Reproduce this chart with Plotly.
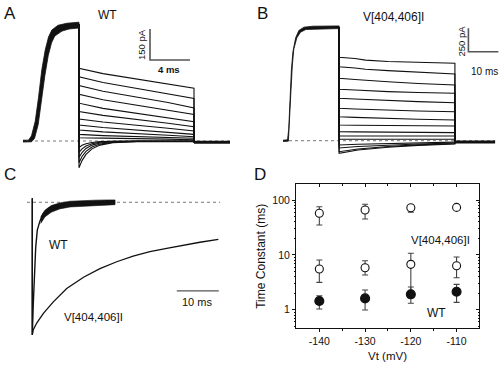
import plotly.graph_objects as go

W, H = 500, 365
FONT = "Liberation Sans, Arial, sans-serif"
INK = "#111111"
GREY = "#555555"

# ---------------- Panel A (WT current family): time in ms, current in pA
A_ACT_UP_T = [0, 0.55, 0.85, 1.22, 1.55, 1.88, 2.22, 2.55, 2.88, 3.5, 4.4, 5.6]
A_ACT_UP = [4, 4, 25, 95, 210, 345, 440, 503, 537, 560, 570, 575]
A_ACT_LO_T = [0, 0.85, 1.15, 1.52, 1.85, 2.18, 2.52, 2.85, 3.18, 3.9, 4.6, 5.6]
A_ACT_LO = [-5, -4, 12, 80, 185, 315, 412, 475, 508, 532, 542, 547]
A_STEP_T = 5.6
A_PLATEAU = 565
A_OUT_T = [5.6, 8.0, 11.4, 14.5, 17.1]
A_OUT = [
    [352, 326, 300, 276, 255],
    [311, 283, 255, 229, 206],
    [268, 241, 214, 186, 160],
    [226, 200, 174, 150, 128],
    [183, 158, 134, 112, 93],
    [142, 124, 106, 86, 69],
    [106, 92, 77, 62, 48],
    [77, 65, 53, 42, 32],
    [53, 44, 37, 28, 21],
    [32, 26, 21, 17, 13],
    [16, 14, 13, 9, 6],
]
A_IN_T = [5.6, 5.9, 6.3, 6.9, 7.7, 9.0, 11.4, 17.1]
A_IN = [
    [-130, -95, -65, -38, -20, -8, -3, -2],
    [-105, -75, -50, -29, -15, -6, -2, -2],
    [-80, -56, -36, -20, -10, -4, -1, -1],
    [-55, -38, -24, -13, -6, -2, 0, -1],
    [-32, -21, -13, -7, -3, -1, 0, 0],
]
A_POST_T = [17.1, 20.7]
A_POST = -6
A_BASE_T = [0, 20.7]
A_SB_T0, A_SB_MS = 12.7, 4      # scale bar: 4 ms
A_SB_Y0, A_SB_PA = 392, 150     # scale bar: 150 pA

# ---------------- Panel B (V[404,406]I current family)
B_ACT_UP_T = [0, 1.5, 1.9, 2.3, 2.8, 3.3, 4.2, 5.3, 7.0, 10, 18.7]
B_ACT_UP = [5, 10, 120, 420, 760, 950, 1100, 1180, 1215, 1225, 1228]
B_ACT_LO_T = [0, 1.8, 2.15, 2.6, 3.1, 3.6, 4.6, 5.8, 7.6, 10.5, 18.7]
B_ACT_LO = [-8, -5, 150, 500, 800, 980, 1100, 1160, 1190, 1198, 1200]
B_STEP_T = 18.7
B_PLATEAU = 1210
B_OUT_T = [18.7, 24.0, 27.5, 35.0, 45.0, 57.3]
B_OUT = [
    [892, 880, 862, 848, 838, 828],
    [792, 778, 765, 750, 732, 714],
    [668, 655, 645, 630, 612, 596],
    [550, 542, 535, 525, 515, 507],
    [454, 446, 440, 430, 418, 407],
    [347, 340, 335, 328, 318, 310],
    [257, 250, 246, 238, 229, 221],
    [168, 166, 165, 162, 160, 157],
    [96, 94, 93, 91, 89, 86],
    [50, 50, 50, 50, 50, 50],
    [15, 15, 15, 15, 15, 15],
]
B_IN_T = [18.7, 25, 35, 45, 57.3]
B_IN = [
    [-135, -100, -70, -50, -35],
    [-118, -88, -62, -45, -30],
    [-78, -62, -46, -35, -25],
    [-46, -38, -30, -24, -18],
]
B_POST_T = [57.3, 70.7]
B_POST = -15
B_BASE_T = [0, 70.7]
B_SB_T0, B_SB_MS = 61.8, 10     # scale bar: 10 ms
B_SB_Y0, B_SB_PA = 952, 250     # scale bar: 250 pA

# ---------------- Panel C (normalised tail currents)
C_WT_T = [0, 0, 0.24, 0.48, 0.81, 1.19, 1.83, 2.62, 3.81, 5.81, 9.76, 19.7]
C_WT = [0.03, -1, -0.76, -0.51, -0.34, -0.21, -0.14, -0.083, -0.045, -0.02, -0.008, 0]
C_WT_NOISE_T = [2.0, 3.0, 4.5, 6.5, 9.0, 12, 15, 18, 19.7]
C_WT_NOISE_UP = [-0.11, -0.06, -0.025, -0.005, 0.008, 0.014, 0.016, 0.018, 0.018]
C_WT_NOISE_LO = [-0.16, -0.11, -0.075, -0.05, -0.035, -0.028, -0.024, -0.02, -0.018]
C_MUT_T = [0, 0, 0.24, 1.05, 2.64, 5.0, 8.19, 12.2, 16.1, 20.1, 24.0, 28.0, 32.0, 35.9, 39.9, 44.3]
C_MUT = [0.03, -1, -0.96, -0.91, -0.837, -0.75, -0.65, -0.565, -0.5, -0.448, -0.405,
         -0.372, -0.347, -0.322, -0.301, -0.279]
C_BASE_T = [-1.26, 44.7]
C_SB_T0, C_SB_MS, C_SB_Y = 34.4, 10, -0.668

# ---------------- Panel D (time constants)
VT = [-140, -130, -120, -110]
VT_LABELS = ["-140", "-130", "-120", "-110"]
SLOW = [57.4, 66.0, 72.6, 73.6]
SLOW_HI = [75.8, 83.8, 81.0, 79.0]
SLOW_LO = [35.1, 45.2, 60.0, 67.5]
FAST = [5.53, 5.84, 6.73, 6.35]
FAST_HI = [8.07, 7.83, 10.7, 9.16]
FAST_LO = [3.16, 4.30, 1.90, 3.84]
WT = [1.44, 1.61, 1.91, 2.13]
WT_HI = [1.80, 2.29, 2.60, 2.90]
WT_LO = [1.03, 0.99, 1.31, 1.36]


def px_x(px):
    return px / W


def px_y(py):
    return 1 - py / H


fig = go.Figure()


def line(x, y, ax, width=1.0, color=INK, dash=None):
    fig.add_trace(go.Scatter(x=x, y=y, mode="lines", xaxis=ax[0], yaxis=ax[1],
                             line=dict(color=color, width=width, dash=dash),
                             hoverinfo="skip", showlegend=False))


def band(xu, yu, xl, yl, ax, lw=0.8):
    fig.add_trace(go.Scatter(x=list(xu) + list(xl)[::-1], y=list(yu) + list(yl)[::-1],
                             mode="lines", fill="toself", fillcolor=INK,
                             line=dict(color=INK, width=lw), xaxis=ax[0], yaxis=ax[1],
                             hoverinfo="skip", showlegend=False))


# Panel A
AX_A = ("x", "y")
line(A_BASE_T, [0, 0], AX_A, 1, "#777777", "dot")
for vals in A_OUT:
    line([A_STEP_T] + A_OUT_T + [A_OUT_T[-1]], [A_PLATEAU] + vals + [A_POST], AX_A, 1.1)
for vals in A_IN:
    line([A_STEP_T] + A_IN_T + [A_IN_T[-1]], [A_PLATEAU] + vals + [A_POST], AX_A, 1.1)
line(A_POST_T, [A_POST, A_POST], AX_A, 3)
band(A_ACT_UP_T, A_ACT_UP, A_ACT_LO_T, A_ACT_LO, AX_A)
line([A_SB_T0, A_SB_T0, A_SB_T0 + A_SB_MS], [A_SB_Y0 + A_SB_PA, A_SB_Y0, A_SB_Y0], AX_A, 1.6, GREY)

# Panel B
AX_B = ("x2", "y2")
line(B_BASE_T, [0, 0], AX_B, 1, "#777777", "dot")
for vals in B_OUT:
    line([B_STEP_T] + B_OUT_T + [B_OUT_T[-1]], [B_PLATEAU] + vals + [B_POST], AX_B, 1.1)
for vals in B_IN:
    line([B_STEP_T] + B_IN_T + [B_IN_T[-1]], [B_PLATEAU] + vals + [B_POST], AX_B, 1.1)
line(B_POST_T, [B_POST, B_POST], AX_B, 3)
band(B_ACT_UP_T, B_ACT_UP, B_ACT_LO_T, B_ACT_LO, AX_B)
line([B_SB_T0, B_SB_T0, B_SB_T0 + B_SB_MS], [B_SB_Y0 + B_SB_PA, B_SB_Y0, B_SB_Y0], AX_B, 1.6, GREY)

# Panel C
AX_C = ("x3", "y3")
line(C_BASE_T, [0, 0], AX_C, 1, "#777777", "dot")
line(C_MUT_T, C_MUT, AX_C, 1.3)
line(C_WT_T, C_WT, AX_C, 1.4)
band(C_WT_NOISE_T, C_WT_NOISE_UP, C_WT_NOISE_T, C_WT_NOISE_LO, AX_C, 0.6)
line([C_SB_T0, C_SB_T0 + C_SB_MS], [C_SB_Y, C_SB_Y], AX_C, 1.2, GREY)


# Panel D
def errs(v, hi, lo):
    return ([h - a for a, h in zip(v, hi)], [a - l for a, l in zip(v, lo)])


for vals, hi, lo, filled, sz in [(SLOW, SLOW_HI, SLOW_LO, False, 8),
                                 (FAST, FAST_HI, FAST_LO, False, 8),
                                 (WT, WT_HI, WT_LO, True, 9)]:
    up, dn = errs(vals, hi, lo)
    fig.add_trace(go.Scatter(
        x=VT, y=vals, mode="markers", xaxis="x4", yaxis="y4", showlegend=False,
        error_y=dict(type="data", array=up, arrayminus=dn, color="#444444",
                     thickness=1.1, width=3),
        marker=dict(size=sz, symbol="circle", color=INK if filled else "white",
                    line=dict(color=INK, width=1.1)),
        hoverinfo="skip"))
# invisible helper for the mirrored (top/right) frame axes
fig.add_trace(go.Scatter(x=VT, y=WT, mode="markers", xaxis="x5", yaxis="y5",
                         marker=dict(opacity=0), hoverinfo="skip", showlegend=False))

hidden = dict(visible=False, fixedrange=True)
LOG_MINOR = [0.5, 0.6, 0.7, 0.8, 0.9, 2, 3, 4, 5, 6, 7, 8, 9,
             20, 30, 40, 50, 60, 70, 80, 90]
tfont = dict(family=FONT, size=10.5, color=INK)

fig.update_layout(
    width=W, height=H, margin=dict(l=0, r=0, t=0, b=0),
    paper_bgcolor="white", plot_bgcolor="rgba(0,0,0,0)",
    font=dict(family=FONT, color=INK),
    xaxis=dict(domain=[px_x(20), px_x(235)], range=[-0.3, 21.2], anchor="y", **hidden),
    yaxis=dict(domain=[px_y(175), px_y(10)], range=[-164.6, 634.0], anchor="x", **hidden),
    xaxis2=dict(domain=[px_x(280), px_x(500)], range=[-1, 72.33], anchor="y2", **hidden),
    yaxis2=dict(domain=[px_y(175), px_y(10)], range=[-367.0, 1398.5], anchor="x2", **hidden),
    xaxis3=dict(domain=[px_x(20), px_x(240)], range=[-2.929, 49.45], anchor="y3", **hidden),
    yaxis3=dict(domain=[px_y(360), px_y(180)], range=[-1.1884, 0.168], anchor="x3", **hidden),
    xaxis4=dict(domain=[px_x(296), px_x(479)], range=[-145.1, -105.1], anchor="y4",
                tickvals=VT, ticktext=VT_LABELS, ticks="outside", ticklen=3, tickcolor=INK,
                showline=True, linecolor=INK, linewidth=1, showgrid=False, zeroline=False,
                tickfont=tfont, fixedrange=True,
                minor=dict(tickvals=[-135, -125, -115], ticks="outside", ticklen=2,
                           tickcolor=INK),
                title=dict(text="Vt (mV)", font=dict(family=FONT, size=11.5), standoff=6)),
    yaxis4=dict(domain=[px_y(328.3), px_y(184.3)], type="log", range=[-0.339, 2.288],
                anchor="x4", tickvals=[1, 10, 100], ticktext=["1", "10", "100"],
                ticks="outside", ticklen=3, tickcolor=INK, showline=True, linecolor=INK,
                linewidth=1, showgrid=False, zeroline=False, tickfont=tfont,
                fixedrange=True,
                minor=dict(tickvals=LOG_MINOR, ticks="outside", ticklen=1.5, tickcolor=INK),
                title=dict(text="Time Constant (ms)", font=dict(family=FONT, size=12),
                           standoff=4)),
    xaxis5=dict(overlaying="x4", side="top", range=[-145.1, -105.1], anchor="y5",
                tickvals=VT, ticks="inside", ticklen=3, tickcolor=INK, showline=True,
                linecolor=INK, linewidth=1, showticklabels=False, showgrid=False,
                zeroline=False, fixedrange=True,
                minor=dict(tickvals=[-135, -125, -115], ticks="inside", ticklen=2,
                           tickcolor=INK)),
    yaxis5=dict(overlaying="y4", side="right", type="log", range=[-0.339, 2.288],
                anchor="x5", tickvals=[1, 10, 100], ticks="inside", ticklen=3,
                tickcolor=INK, showline=True, linecolor=INK, linewidth=1,
                showticklabels=False, showgrid=False, zeroline=False, fixedrange=True,
                minor=dict(tickvals=LOG_MINOR, ticks="inside", ticklen=1.5, tickcolor=INK)),
)


def note(text, px, py, size=11, angle=0, bold=False, color=INK):
    fig.add_annotation(text=f"<b>{text}</b>" if bold else text, x=px_x(px), y=px_y(py),
                       xref="paper", yref="paper", showarrow=False, textangle=angle,
                       xanchor="center", yanchor="middle",
                       font=dict(family=FONT, size=size, color=color))


note("A", 10, 14, 17)
note("B", 262, 14, 17)
note("C", 10, 175, 17)
note("D", 260, 175, 17)
note("WT", 107.5, 15, 12)
note("V[404,406]I", 393, 17, 12)
note("150 pA", 141.5, 44.5, 9.5, angle=-90)
note("4 ms", 168.5, 69.5, 9.5, bold=True)
note("250 pA", 461, 41.5, 9.5, angle=-90)
note("10 ms", 484, 71.5, 10)
note("WT", 58.5, 245, 12)
note("V[404,406]I", 93.5, 316.5, 11.5)
note("10 ms", 197, 302, 11)
note("V[404,406]I", 440, 240, 11.5)
note("WT", 436, 313, 12)

# remove the browser's default 8px page margin so the 500x365 figure fills the window
fig.write_html("out.html", config={"displayModeBar": False},
               post_script="document.body.style.margin='0';"
                           "document.body.style.overflow='hidden';")
